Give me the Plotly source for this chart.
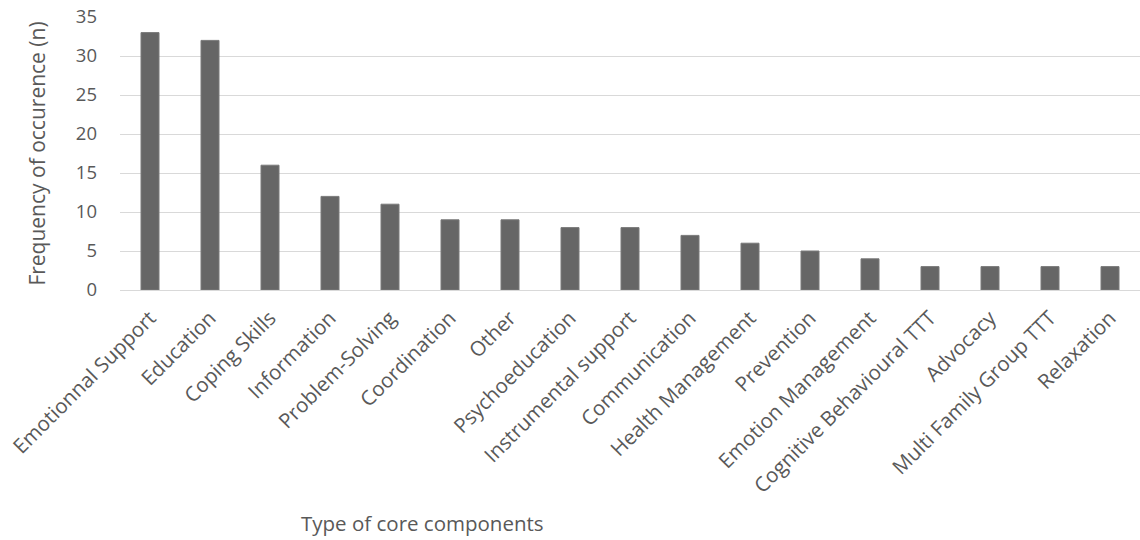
import plotly.graph_objects as go

categories = ["Emotionnal Support", "Education", "Coping Skills", "Information", "Problem-Solving",
              "Coordination", "Other", "Psychoeducation", "Instrumental support", "Communication",
              "Health Management", "Prevention", "Emotion Management", "Cognitive Behavioural TTT",
              "Advocacy", "Multi Family Group TTT", "Relaxation"]
values = [33, 32, 16, 12, 11, 9, 9, 8, 8, 7, 6, 5, 4, 3, 3, 3, 3]
y_ticks = [0, 5, 10, 15, 20, 25, 30, 35]

FONT = "Open Sans"
TXT = "#595959"

fig = go.Figure(go.Bar(x=categories, y=values, marker=dict(color="#666666", line=dict(color="#7a7a7a", width=1))))
fig.update_layout(
    width=1140, height=540,
    margin=dict(l=120, r=0, t=17, b=250),
    plot_bgcolor="white", paper_bgcolor="white",
    bargap=0.7, showlegend=False,
    font=dict(family=FONT, color=TXT),
)
fig.update_xaxes(tickangle=-45, tickfont=dict(size=20.5, color=TXT, family=FONT), showgrid=False,
                 showline=True, linecolor="#d9d9d9", linewidth=1, ticks="", ticklabelstandoff=7)
fig.update_yaxes(range=[0, 35], tickvals=y_ticks, showgrid=True, gridcolor="#d9d9d9", gridwidth=1,
                 zeroline=False, tickfont=dict(size=18.5, color=TXT, family=FONT), ticklabelstandoff=22,
                 title=dict(text="Frequency of occurence (n)", font=dict(size=21, color=TXT, family=FONT), standoff=24))
fig.add_annotation(text="Type of core components", xref="paper", yref="paper", x=(422-120)/1020, y=-(523-290)/273,
                   showarrow=False, font=dict(size=20.5, color=TXT, family=FONT), xanchor="center", yanchor="middle")
fig.write_html("out.html")
